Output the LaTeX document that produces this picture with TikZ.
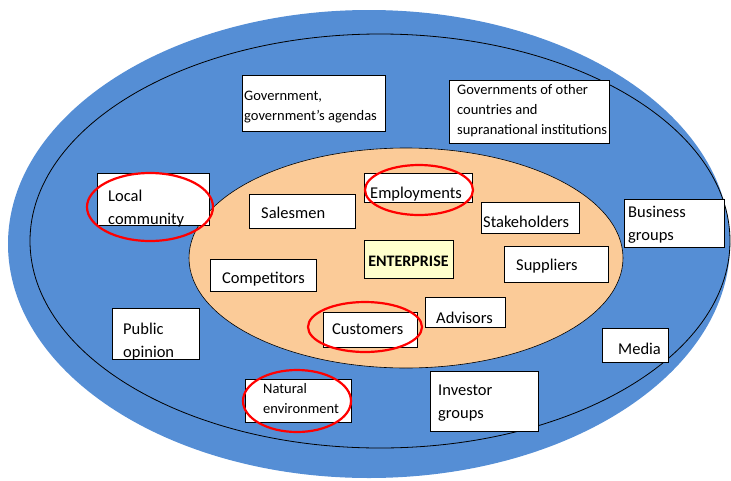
\documentclass[tikz,border=0pt]{standalone}
\usepackage{fontspec}
\setmainfont{Carlito}
\usetikzlibrary{calc}
\definecolor{outerblue}{RGB}{85,142,213}
\definecolor{innertan}{RGB}{251,203,152}
\definecolor{corepale}{RGB}{255,255,204}
\tikzset{
  box/.style={draw=black, line width=0.7pt, fill=white},
  lbl/.style={anchor=base west, align=left, inner sep=0pt, font=\fontsize{16.5}{23}\selectfont},
  small/.style={lbl, font=\fontsize{14.5}{20}\selectfont},
  ring/.style={draw=red, line width=2.2pt}
}
\begin{document}
\begin{tikzpicture}[x=1pt,y=-1pt]
			\useasboundingbox (0,0) rectangle (731,480);
			%%%%% START %%%%%
			
			\fill[outerblue] (369,244) ellipse (361pt and 234pt);
			\draw[line width=0.8pt] (380,241) ellipse (350pt and 207pt);
			\draw[fill=innertan, line width=0.6pt] (406,258) ellipse (217pt and 110pt);
			
			% multi-line labels sit on the baseline of their last line
			\draw[box] (242,75) rectangle (385,131);
			\node[small] (gov) at (244,120) {Government,\\government's agendas};
			\draw[box] (449,80) rectangle (609,143);
			\node[small] (govother) at (457,134) {Governments of other\\countries and\\supranational institutions};
			
			\draw[box] (97,173) rectangle (209,225);
			\node[lbl] (local) at (108,224) {Local\\community};
			\draw[box] (249,194) rectangle (355,228);
			\node[lbl] (sales) at (261,218) {Salesmen};
			\draw[box] (364,173) rectangle (472,202);
			\node[lbl] (employ) at (370,198) {Employments};
			\draw[box] (481,202) rectangle (579,233);
			\node[lbl] (stake) at (483,227) {Stakeholders};
			\draw[box] (624,199) rectangle (724,247);
			\node[lbl] (business) at (628,240) {Business\\groups};
			
			\draw[box, fill=corepale] (364,240) rectangle (453,278);
			\node[lbl, anchor=base, font=\fontsize{16}{23}\selectfont\bfseries] (enterprise) at (408.5,266) {ENTERPRISE};
			\draw[box] (210,259) rectangle (316,291);
			\node[lbl] (compet) at (222,283) {Competitors};
			\draw[box] (504,246) rectangle (608,282);
			\node[lbl] (suppl) at (516,270) {Suppliers};
			\draw[box] (425,297) rectangle (505,327);
			\node[lbl] (advis) at (436,323) {Advisors};
			\draw[box] (323,312) rectangle (417,347);
			\node[lbl] (custom) at (332,334) {Customers};
			
			\draw[box] (112,308) rectangle (199,359);
			\node[lbl] (public) at (123,357) {Public\\opinion};
			\draw[box] (602,328) rectangle (668,362);
			\node[lbl] (media) at (618,354) {Media};
			\draw[box] (245,379) rectangle (351,422);
			\node[small] (nature) at (263,413) {Natural\\environment};
			\draw[box] (430,371) rectangle (538,431);
			\node[lbl] (investor) at (438,418) {Investor\\groups};
			
			\draw[ring] (150,207) ellipse (63pt and 34pt);
			\draw[ring] (419,190) ellipse (54pt and 25pt);
			\draw[ring] (365,327) ellipse (57pt and 25pt);
			\draw[ring] (297,401) ellipse (54pt and 31pt);
			
			%%%%% END %%%%%
\end{tikzpicture}
\end{document}
